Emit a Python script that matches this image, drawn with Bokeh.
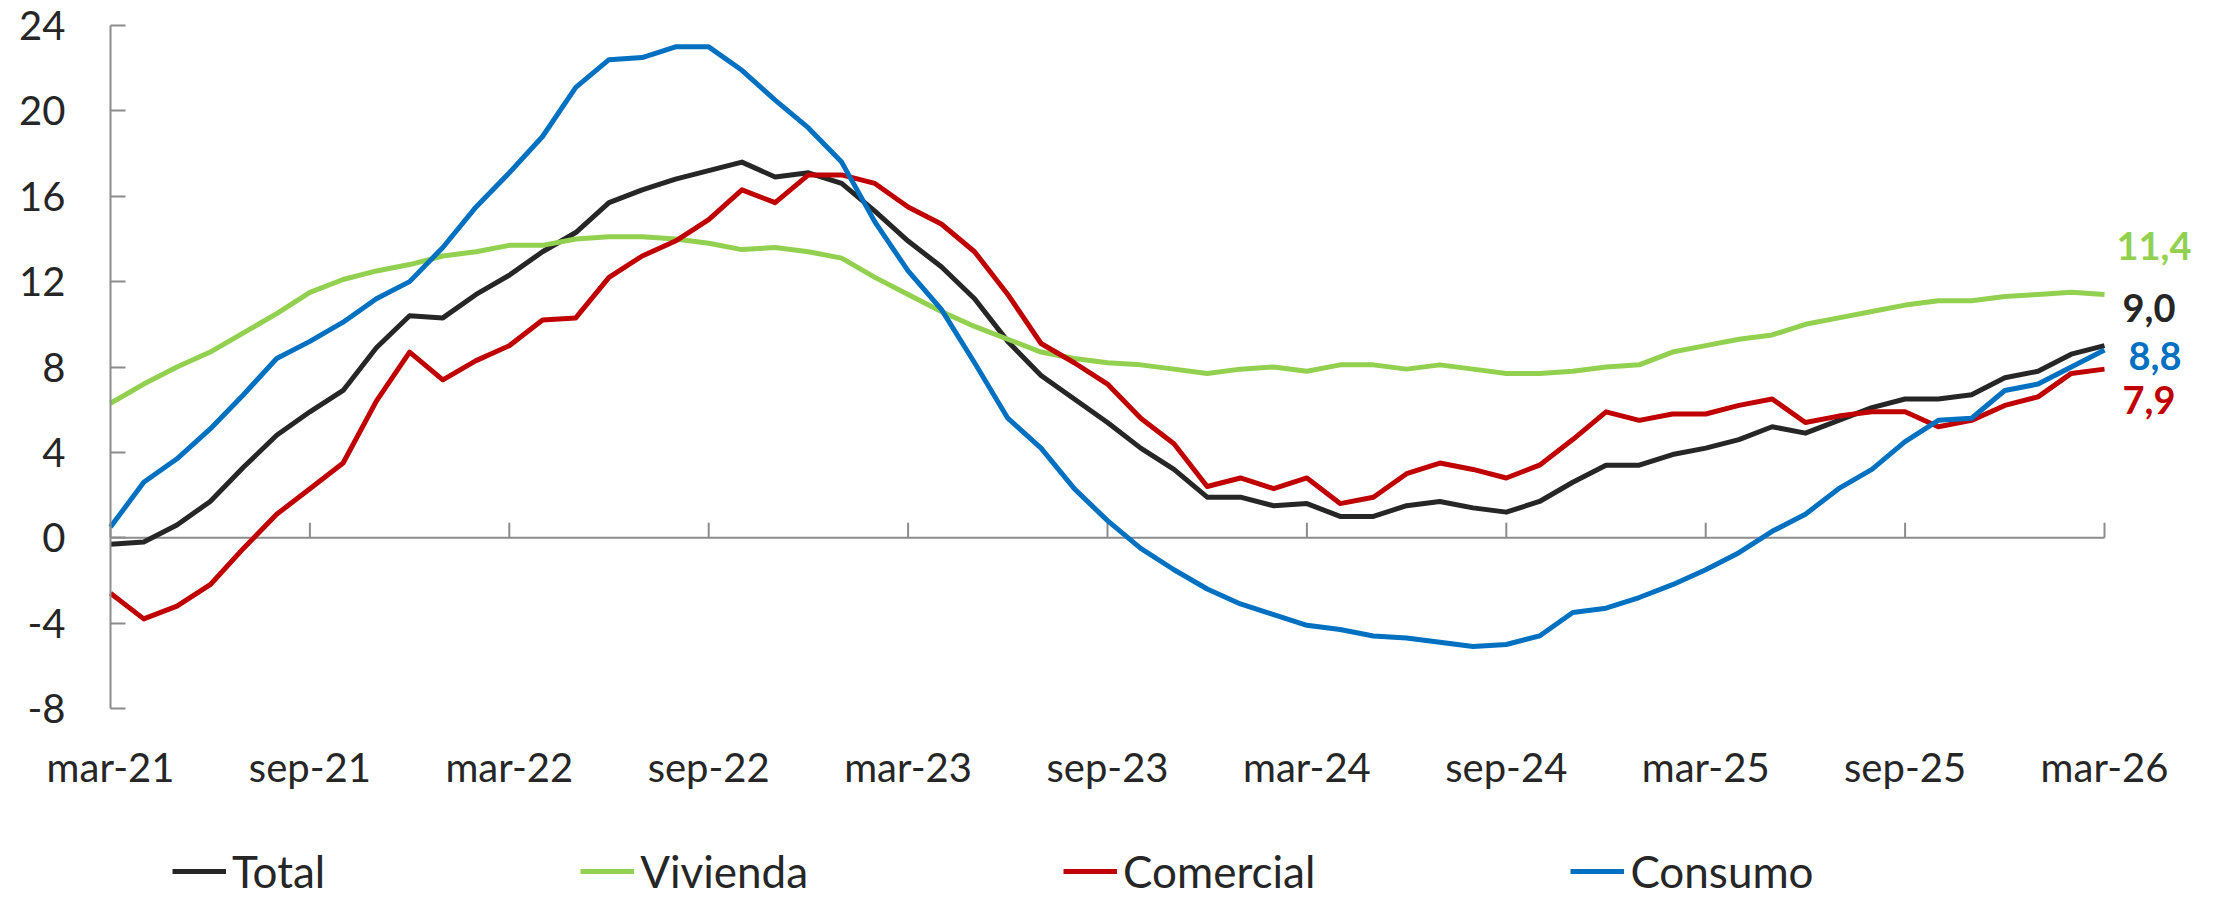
from bokeh.plotting import figure
from bokeh.models import Range1d, LinearAxis, FixedTicker, Label, Legend, LegendItem
from bokeh.embed import file_html
from bokeh.resources import INLINE

# ---------------- data ----------------
month_abbr = ["ene", "feb", "mar", "abr", "may", "jun", "jul", "ago", "sep", "oct", "nov", "dic"]
months = [f"{month_abbr[(2 + k) % 12]}-{21 + (2 + k) // 12}" for k in range(61)]  # mar-21 ... mar-26
x_idx = list(range(len(months)))
x_ticks = list(range(0, 61, 6))
y_ticks = [-8, -4, 0, 4, 8, 12, 16, 20, 24]

total = [-0.3, -0.2, 0.6, 1.7, 3.3, 4.8, 5.9, 6.9, 8.9, 10.4, 10.3, 11.4, 12.3, 13.4, 14.3, 15.7,
         16.3, 16.8, 17.2, 17.6, 16.9, 17.1, 16.6, 15.3, 13.9, 12.7, 11.2, 9.2, 7.6, 6.5, 5.4, 4.2,
         3.2, 1.9, 1.9, 1.5, 1.6, 1.0, 1.0, 1.5, 1.7, 1.4, 1.2, 1.7, 2.6, 3.4, 3.4, 3.9, 4.2, 4.6,
         5.2, 4.9, 5.5, 6.1, 6.5, 6.5, 6.7, 7.5, 7.8, 8.6, 9.0]
vivienda = [6.3, 7.2, 8.0, 8.7, 9.6, 10.5, 11.5, 12.1, 12.5, 12.8, 13.2, 13.4, 13.7, 13.7, 14.0, 14.1,
            14.1, 14.0, 13.8, 13.5, 13.6, 13.4, 13.1, 12.2, 11.4, 10.6, 9.9, 9.3, 8.7, 8.4, 8.2, 8.1,
            7.9, 7.7, 7.9, 8.0, 7.8, 8.1, 8.1, 7.9, 8.1, 7.9, 7.7, 7.7, 7.8, 8.0, 8.1, 8.7, 9.0, 9.3,
            9.5, 10.0, 10.3, 10.6, 10.9, 11.1, 11.1, 11.3, 11.4, 11.5, 11.4]
comercial = [-2.6, -3.8, -3.2, -2.2, -0.5, 1.1, 2.3, 3.5, 6.4, 8.7, 7.4, 8.3, 9.0, 10.2, 10.3, 12.2,
             13.2, 13.9, 14.9, 16.3, 15.7, 17.0, 17.0, 16.6, 15.5, 14.7, 13.4, 11.4, 9.1, 8.2, 7.2, 5.6,
             4.4, 2.4, 2.8, 2.3, 2.8, 1.6, 1.9, 3.0, 3.5, 3.2, 2.8, 3.4, 4.6, 5.9, 5.5, 5.8, 5.8, 6.2,
             6.5, 5.4, 5.7, 5.9, 5.9, 5.2, 5.5, 6.2, 6.6, 7.7, 7.9]
consumo = [0.5, 2.6, 3.7, 5.1, 6.7, 8.4, 9.2, 10.1, 11.2, 12.0, 13.6, 15.5, 17.1, 18.8, 21.1, 22.4,
           22.5, 23.0, 23.0, 21.9, 20.5, 19.2, 17.6, 14.8, 12.5, 10.7, 8.2, 5.6, 4.2, 2.3, 0.8, -0.5,
           -1.5, -2.4, -3.1, -3.6, -4.1, -4.3, -4.6, -4.7, -4.9, -5.1, -5.0, -4.6, -3.5, -3.3, -2.8, -2.2,
           -1.5, -0.7, 0.3, 1.1, 2.3, 3.2, 4.5, 5.5, 5.6, 6.9, 7.2, 8.0, 8.8]

series_names = ["Total", "Vivienda", "Comercial", "Consumo"]
series_values = [total, vivienda, comercial, consumo]

# ---------------- style ----------------
colors = {"Total": "#262626", "Vivienda": "#92D050", "Comercial": "#C00000", "Consumo": "#0070C0"}
label_dx = {"Total": 18, "Vivienda": 12, "Comercial": 18, "Consumo": 24}
label_dy = {"Total": 38, "Vivienda": 48, "Comercial": -31, "Consumo": -6}
FONT = "Lato"
TXT = "#262626"
GRAY = "#8C8C8C"

W, H = 2225, 898
LEFT, RIGHT_EDGE = 110, 2104          # pixel positions of first/last month
TOP, AX_BOTTOM = 25, 708              # pixel positions of 24 and -8
Y_MIN, Y_MAX = -8, 24
px_per_month = (RIGHT_EDGE - LEFT) / 60
px_per_unit = (AX_BOTTOM - TOP) / (Y_MAX - Y_MIN)
# the frame covers the whole canvas; axes are placed at fixed data locations
x_start = -LEFT / px_per_month
x_end = (W - LEFT) / px_per_month
y_top = Y_MAX + TOP / px_per_unit
y_bottom = Y_MIN - (H - AX_BOTTOM) / px_per_unit

p = figure(width=W, height=H, x_range=Range1d(x_start, x_end), y_range=Range1d(y_bottom, y_top),
           output_backend="svg", toolbar_location=None,
           x_axis_location=None, y_axis_location=None,
           min_border_left=0, min_border_right=0, min_border_top=0, min_border_bottom=0)
p.outline_line_color = None
p.xgrid.visible = False
p.ygrid.visible = False
p.background_fill_color = "white"

# y axis (at the first month)
yaxis = LinearAxis(ticker=FixedTicker(ticks=y_ticks), bounds=(Y_MIN, Y_MAX), fixed_location=x_idx[0],
                   major_label_overrides={t: str(t) for t in y_ticks})
yaxis.axis_line_color = GRAY
yaxis.axis_line_width = 2
yaxis.major_tick_line_color = GRAY
yaxis.major_tick_line_width = 2
yaxis.major_tick_in = 15
yaxis.major_tick_out = 0
yaxis.minor_tick_line_color = None
yaxis.major_label_standoff = 45
yaxis.major_label_text_font = FONT
yaxis.major_label_text_font_size = "40px"
yaxis.major_label_text_color = TXT
p.add_layout(yaxis, "left")

# x axis labels (low position, under the -8 line)
xaxis = LinearAxis(ticker=FixedTicker(ticks=x_ticks), fixed_location=Y_MIN,
                   major_label_overrides={t: months[t] for t in x_ticks})
xaxis.axis_line_color = None
xaxis.major_tick_line_color = None
xaxis.minor_tick_line_color = None
xaxis.major_label_standoff = 28
xaxis.major_label_text_font = FONT
xaxis.major_label_text_font_size = "40px"
xaxis.major_label_text_color = TXT
p.add_layout(xaxis, "below")

# zero line with upward ticks (category axis crossing at 0)
tick_len = 15 / px_per_unit
p.segment(x0=[x_idx[0]], y0=[0], x1=[x_idx[-1]], y1=[0], line_color=GRAY, line_width=2, level="underlay")
p.segment(x0=x_ticks, y0=[0] * len(x_ticks), x1=x_ticks, y1=[tick_len] * len(x_ticks),
          line_color=GRAY, line_width=2, level="underlay")

renderers = {}
for name, vals in zip(series_names, series_values):
    renderers[name] = p.line(x_idx, vals, line_color=colors[name], line_width=5, line_join="round")

for name, vals in zip(series_names, series_values):
    p.add_layout(Label(x=x_idx[-1], y=vals[-1], x_offset=label_dx[name], y_offset=label_dy[name],
                       text=f"{vals[-1]:.1f}".replace(".", ","), text_color=colors[name],
                       text_font=FONT, text_font_size="38px", text_font_style="bold",
                       text_baseline="middle", text_align="left"))

legend = Legend(items=[LegendItem(label=n, renderers=[renderers[n]]) for n in series_names],
                orientation="horizontal", location=(172, 1), spacing=255,
                glyph_width=54, glyph_height=40, label_height=40, label_standoff=6,
                padding=0, margin=0, border_line_color=None, background_fill_alpha=0,
                label_text_font=FONT, label_text_font_size="44px", label_text_color=TXT)
p.add_layout(legend)

open("out.html", "w").write(file_html(p, INLINE))
